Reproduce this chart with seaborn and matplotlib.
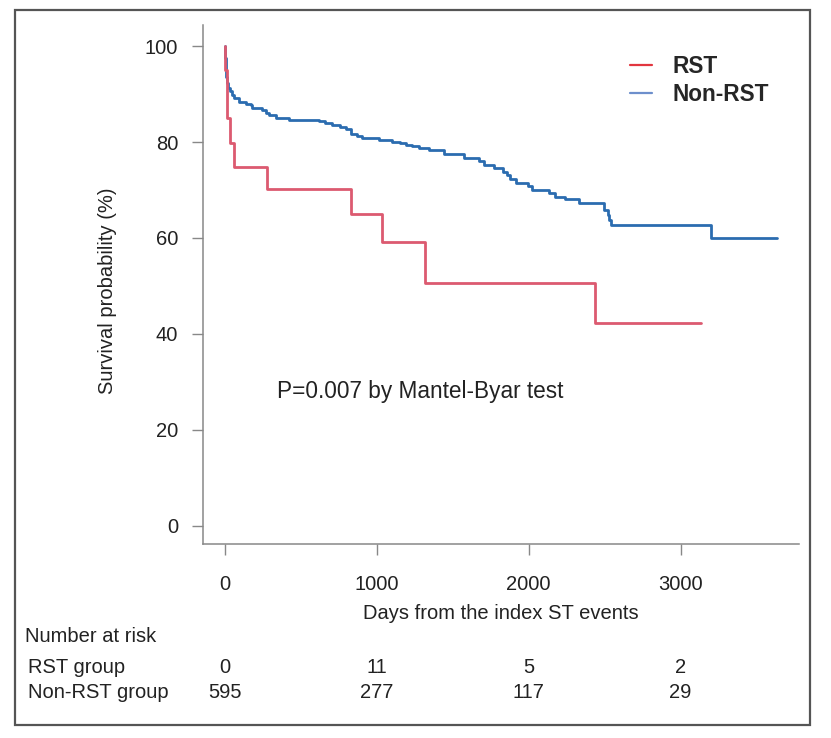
import matplotlib
matplotlib.use("Agg")
import matplotlib.pyplot as plt
import matplotlib.transforms as mtransforms
from matplotlib.lines import Line2D
from matplotlib.patches import Rectangle
import pandas as pd
import seaborn as sns

sns.set_style("white")
plt.rcParams["font.family"] = ["Liberation Sans", "DejaVu Sans"]

# survival curves (days, survival %)
rst_days = [0, 3, 15, 31, 59, 278, 827, 1035, 1320, 2438, 3135]
rst_surv = [100, 95.0, 85.0, 79.8, 74.8, 70.3, 65.1, 59.1, 50.7, 42.3, 42.3]

nonrst_days = [0, 2, 4, 8, 14, 22, 30, 45, 59, 92, 140, 169, 180, 246, 270,
               289, 333, 421, 531, 618, 660, 706, 760, 794, 827, 870, 904,
               1013, 1101, 1150, 1189, 1230, 1276, 1342, 1441, 1573, 1671,
               1704, 1774, 1829, 1855, 1875, 1918, 1997, 2020, 2131, 2175,
               2242, 2330, 2498, 2520, 2530, 2543, 3200, 3635]
nonrst_surv = [100, 97.5, 95.0, 93.5, 92.3, 91.2, 90.6, 89.8, 89.1, 88.4,
               88.0, 87.7, 87.0, 86.6, 86.1, 85.6, 85.0, 84.7, 84.5, 84.4,
               84.0, 83.5, 83.1, 82.8, 81.7, 81.3, 80.9, 80.5, 80.1, 79.8,
               79.4, 79.1, 78.8, 78.3, 77.6, 76.6, 76.1, 75.2, 74.5, 73.8,
               73.1, 72.4, 71.4, 70.8, 70.1, 69.4, 68.6, 68.1, 67.2, 65.8,
               64.8, 63.7, 62.7, 60.0, 60.0]

x_ticks = [0, 1000, 2000, 3000]
y_ticks = [0, 20, 40, 60, 80, 100]

risk_times = [0, 1000, 2000, 3000]
rst_at_risk = [0, 11, 5, 2]
nonrst_at_risk = [595, 277, 117, 29]

groups = ["Non-RST", "RST"]
curve_colors = {"RST": "#dc5a70", "Non-RST": "#2b6cb0"}
legend_colors = {"RST": "#e2363f", "Non-RST": "#6d8fcc"}

df = pd.concat([
    pd.DataFrame({"days": nonrst_days, "surv": nonrst_surv, "group": "Non-RST"}),
    pd.DataFrame({"days": rst_days, "surv": rst_surv, "group": "RST"}),
])

fig = plt.figure(figsize=(8.31, 7.38), dpi=100)
ax = fig.add_axes([0.2443, 0.2629, 0.7172, 0.7032])

sns.lineplot(data=df, x="days", y="surv", hue="group", hue_order=groups,
             palette=curve_colors, drawstyle="steps-post", estimator=None,
             sort=False, linewidth=2.0, legend=False, ax=ax)

ax.set_xlim(-145, 3780)
ax.set_ylim(-3.8, 104.4)
ax.set_xticks(x_ticks)
ax.set_yticks(y_ticks)
ax.set_xticklabels([str(t) for t in x_ticks])
ax.set_yticklabels([str(t) for t in y_ticks])

for side in ["top", "right"]:
    ax.spines[side].set_visible(False)
for side in ["left", "bottom"]:
    ax.spines[side].set_color("#888888")
    ax.spines[side].set_linewidth(1.1)

ax.tick_params(axis="x", length=8, width=1.0, color="#888888", pad=14,
               labelsize=14.5, labelcolor="#222222", direction="out", bottom=True)
ax.tick_params(axis="y", length=8, width=1.0, color="#888888", pad=10,
               labelsize=14.5, labelcolor="#222222", direction="out", left=True)

ax.set_xlabel("Days from the index ST events", fontsize=14.5, color="#222222")
ax.set_ylabel("Survival probability (%)", fontsize=14.5, color="#222222")
ax.xaxis.set_label_coords(0.5, -0.116)
ax.yaxis.set_label_coords(-0.145, 0.4875)

ax.text(342, 27.9, "P=0.007 by Mantel-Byar test", fontsize=16.3,
        color="#222222", ha="left", va="center")

handles = [Line2D([0], [0], color=legend_colors[g], lw=1.6) for g in ["RST", "Non-RST"]]
ax.legend(handles, ["RST", "Non-RST"], loc="upper left",
          bbox_to_anchor=(0.697, 0.965), frameon=False, borderpad=0,
          handlelength=1.0, handletextpad=0.9, labelspacing=0.23,
          prop={"size": 16.3, "weight": "bold"})

# number at risk table
trans = mtransforms.blended_transform_factory(ax.transData, fig.transFigure)
fig.text(0.030, 0.1382, "Number at risk", fontsize=14.5, color="#222222",
         ha="left", va="center")
fig.text(0.034, 0.0962, "RST group", fontsize=14.5, color="#222222",
         ha="left", va="center")
fig.text(0.034, 0.0623, "Non-RST group", fontsize=14.5, color="#222222",
         ha="left", va="center")
for t, a, b in zip(risk_times, rst_at_risk, nonrst_at_risk):
    ax.text(t, 0.0962, str(a), transform=trans, fontsize=14.5, color="#222222",
            ha="center", va="center", clip_on=False)
    ax.text(t, 0.0623, str(b), transform=trans, fontsize=14.5, color="#222222",
            ha="center", va="center", clip_on=False)

# outer frame around the whole figure
fig.add_artist(Rectangle((0.018, 0.0176), 0.9567, 0.9688, transform=fig.transFigure,
                         fill=False, edgecolor="#555555", linewidth=1.6))

fig.savefig("out.png", dpi=100)
